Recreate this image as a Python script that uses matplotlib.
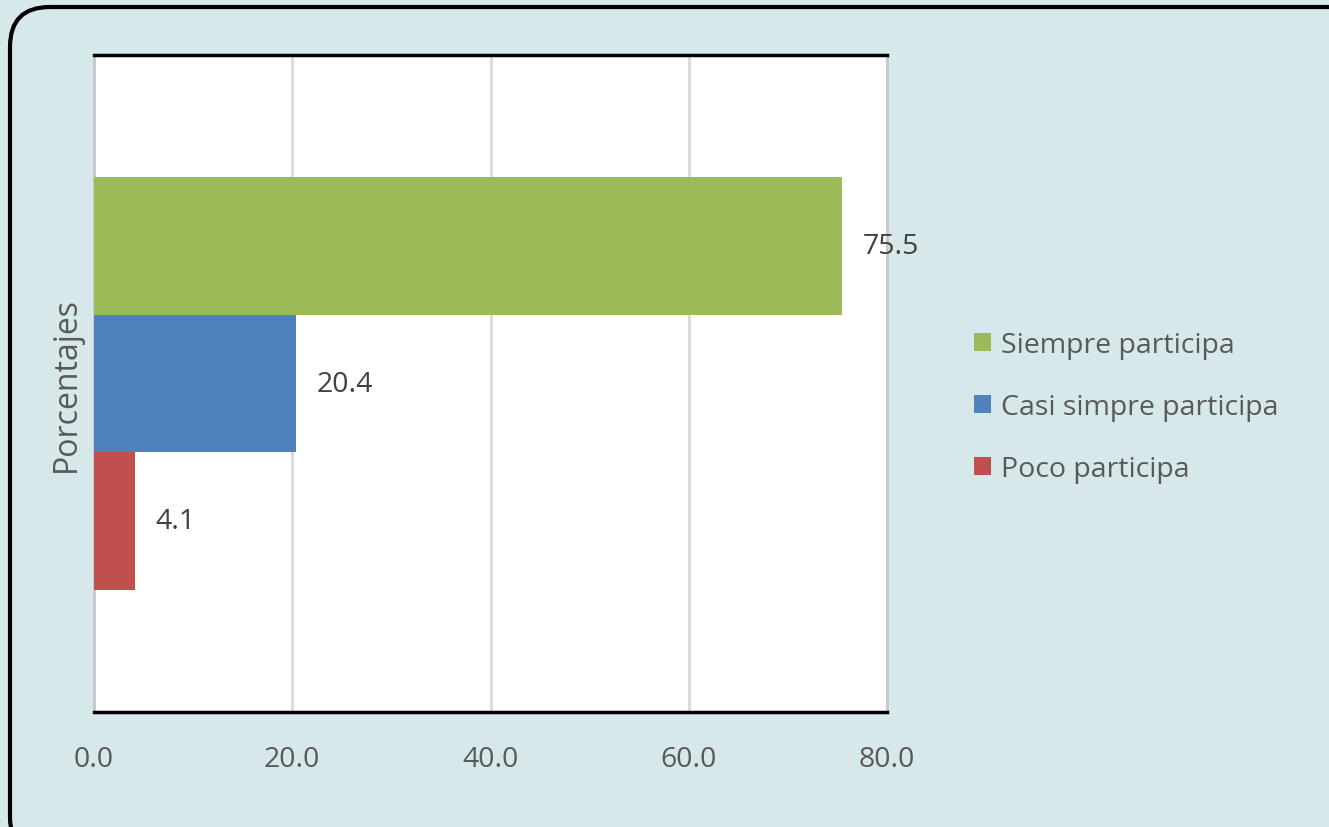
import matplotlib
matplotlib.use("Agg")
import matplotlib.pyplot as plt
from matplotlib.patches import FancyBboxPatch, Patch

series = ["Siempre participa", "Casi simpre participa", "Poco participa"]
values = [75.5, 20.4, 4.1]
colors = ["#9BBB59", "#4F81BD", "#C0504D"]
xticks = [0, 20, 40, 60, 80]
ylabel = "Porcentajes"

plt.rcParams['font.family'] = ['Open Sans', 'DejaVu Sans']
txt = "#595959"
bg = "#D7E8EB"
fs = 20.5

W, H = 1329, 828
fig = plt.figure(figsize=(W / 100, H / 100), dpi=100)
fig.patch.set_facecolor(bg)

# outer rounded frame (extends beyond right/bottom edges)
frame = FancyBboxPatch((10 / W, -30 / H), (W + 30) / W, (H - 8 + 30) / H,
                       boxstyle="round,pad=0,rounding_size=0.03",
                       transform=fig.transFigure, facecolor=bg,
                       edgecolor="black", linewidth=3, zorder=-5,
                       mutation_aspect=W / H)
fig.patches.append(frame)

ax = fig.add_axes([94 / W, 1 - 713 / H, (887 - 94) / W, (713 - 56) / H])
ax.set_zorder(2)
ax.set_facecolor("white")

bar_h = 0.21
ypos = [bar_h, 0.0, -bar_h]
for y, v, c in zip(ypos, values, colors):
    ax.barh(y, v, height=bar_h, color=c, zorder=3)
    ax.text(v + 2.1, y, f"{v:.1f}", va="center", ha="left",
            fontsize=fs, color="#404040", zorder=4)

ax.set_xlim(0, 80)
ax.set_ylim(-0.5, 0.5)
ax.set_xticks(xticks)
ax.set_xticklabels([f"{t:.1f}" for t in xticks], fontsize=fs, color=txt)
ax.set_yticks([])
ax.tick_params(axis="x", length=0, pad=24)
ax.xaxis.grid(True, color="#D9D9D9", linewidth=2, zorder=1)
ax.set_axisbelow(True)

for s in ["top", "bottom"]:
    ax.spines[s].set_color("black")
    ax.spines[s].set_linewidth(2.5)
for s in ["left", "right"]:
    ax.spines[s].set_color("#C8C8C8")
    ax.spines[s].set_linewidth(2)

ax.set_ylabel(ylabel, fontsize=23, color=txt, labelpad=8)

handles = [Patch(facecolor=c, edgecolor="none") for c in colors]
leg = fig.legend(handles, series, loc="center left",
                 bbox_to_anchor=(963 / W, 1 - 408 / H),
                 frameon=False, fontsize=fs, labelcolor=txt,
                 handlelength=0.6, handleheight=0.6, handletextpad=0.35,
                 labelspacing=1.2, borderaxespad=0)

fig.savefig("out.png", dpi=100, facecolor=bg)
